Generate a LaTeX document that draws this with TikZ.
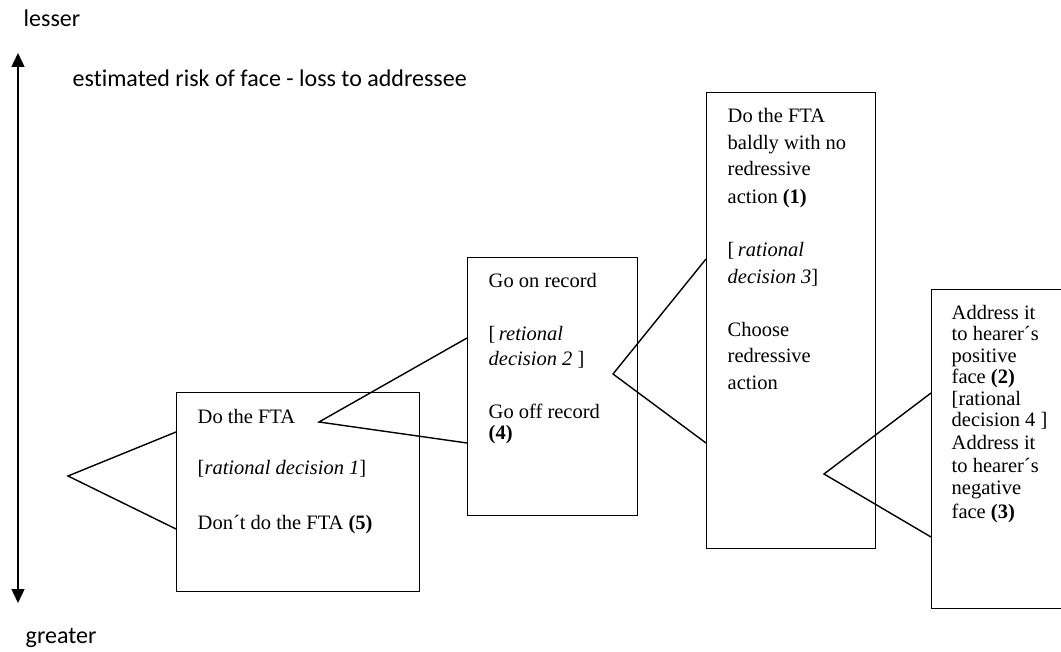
\documentclass[tikz,border=0pt]{standalone}
\usepackage{fontspec}
\setmainfont{Liberation Serif}
\newfontfamily\scalefont[Ligatures=NoCommon]{Carlito}
\usetikzlibrary{arrows.meta}

\begin{document}
\begin{tikzpicture}[x=1pt, y=-1pt, line width=1.4pt, line join=miter,
		>={Triangle[width=13pt, length=14pt]},
		box/.style={draw, rectangle, inner sep=0pt, anchor=north west},
		boxtext/.style={anchor=base west, inner sep=0pt, align=left, font=\fontsize{20.5}{23}\selectfont},
		scaletext/.style={anchor=base west, inner sep=0pt, font=\scalefont\fontsize{24}{28}\selectfont}]
		\path[use as bounding box, clip] (0,0) rectangle (1061,652);
		% ---- scale on the left ----
		\node[scaletext] (lesser) at (23,27) {lesser};
		\node[scaletext] (greater) at (25,643) {greater};
		\node[scaletext] (risk) at (72,87) {estimated risk of face - loss to addressee};
		\coordinate (up) at (18,53);
		\coordinate (down) at (18,603);
		\draw[<->] (down) -- (up);
		% ---- boxes ----
		\node[box, minimum width=243pt, minimum height=199pt] (fta) at (176,392) {};
		\node[box, minimum width=170pt, minimum height=258pt] (record) at (467,257) {};
		\node[box, minimum width=169pt, minimum height=456pt] (bald) at (706,92) {};
		\node[box, minimum width=150pt, minimum height=319pt] (redress) at (931,289) {};
		% ---- texts in the boxes (placed at the baseline of their last line) ----
		\node[boxtext] (ftatext) at (197,529) {Do the FTA\\[28pt]
			{[}\textit{rational decision 1}]\\[32pt]
			Don´t do the FTA \textbf{(5)}};
		\node[boxtext] (recordtext) at (488,439) {Go on record\\[30pt]
			{[}\,\textit{retional}\\[2pt]
			\textit{decision 2} ]\\[30pt]
			Go off record\\[-2pt]
			\textbf{(4)}};
		\node[boxtext, font=\fontsize{20.5}{27}\selectfont] (baldtext) at (727,390) {Do the FTA\\
			baldly with no\\
			redressive\\
			action \textbf{(1)}\\[26pt]
			{[}\,\textit{rational}\\
			\textit{decision 3}]\\[26pt]
			Choose\\
			redressive\\
			action};
		\node[boxtext, font=\fontsize{20.5}{21.5}\selectfont] (redresstext) at (951,518) {Address it\\
			to hearer´s\\
			positive\\
			face \textbf{(2)}\\
			{[}rational\\
			decision 4 ]\\[1.5pt]
			Address it\\[1.5pt]
			to hearer´s\\
			negative\\[2.5pt]
			face \textbf{(3)}};
		% ---- forks between the boxes ----
		\coordinate (fork1) at (68,476);
		\coordinate (fork2) at (319,422);
		\coordinate (fork3) at (613,374);
		\coordinate (fork4) at (824,474);
		\foreach \f/\b/\u/\l in {fork1/fta/40/137, fork2/record/81/186, fork3/bald/167/351, fork4/redress/104/248}
			\draw ([yshift=-\u pt]\b.north west) -- (\f) -- ([yshift=-\l pt]\b.north west);
	\end{tikzpicture}
\end{document}
